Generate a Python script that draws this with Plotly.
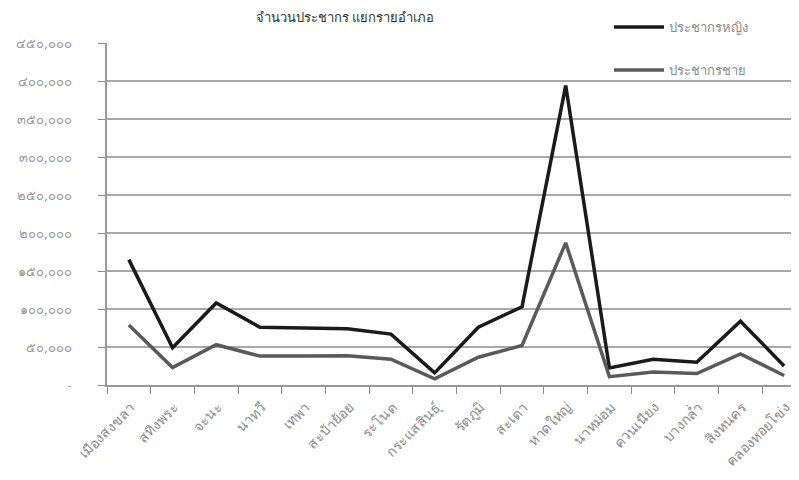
import plotly.graph_objects as go

districts = ["เมืองสงขลา", "สทิงพระ", "จะนะ", "นาทวี", "เทพา", "สะบ้าย้อย", "ระโนด",
             "กระแสสินธุ์", "รัตภูมิ", "สะเดา", "หาดใหญ่", "นาหม่อม", "ควนเนียง",
             "บางกล่ำ", "สิงหนคร", "คลองหอยโข่ง"]
female = [165000, 49000, 108000, 76000, 75000, 74000, 67000, 16000, 76000, 103000,
          394000, 22500, 34000, 30000, 84000, 25000]
male = [79000, 23000, 53000, 38000, 38000, 38500, 34000, 8000, 36500, 52000,
        187000, 11000, 17000, 15000, 41000, 12500]

y_tickvals = [0, 50000, 100000, 150000, 200000, 250000, 300000, 350000, 400000, 450000]
y_ticktext = ["-", "๕๐,๐๐๐", "๑๐๐,๐๐๐", "๑๕๐,๐๐๐", "๒๐๐,๐๐๐", "๒๕๐,๐๐๐",
              "๓๐๐,๐๐๐", "๓๕๐,๐๐๐", "๔๐๐,๐๐๐", "๔๕๐,๐๐๐"]

fig = go.Figure()
fig.add_trace(go.Scatter(x=districts, y=female, mode="lines", name="ประชากรหญิง",
                         line=dict(color="#1a1a1a", width=3.5), legendgroup="f"))
fig.add_trace(go.Scatter(x=districts, y=male, mode="lines", name="ประชากรชาย",
                         line=dict(color="#5a5a5a", width=3.5), legendgroup="m"))

fig.update_layout(
    width=799, height=480,
    margin=dict(l=99, r=8, t=34.5, b=102.5, autoexpand=False),
    plot_bgcolor="white", paper_bgcolor="white",
    font=dict(family="Noto Sans, DejaVu Sans, sans-serif", color="#888888", size=12),
    title=dict(text="จำนวนประชากร แยกรายอำเภอ", x=(345 - 8) / 799, xanchor="center",
               y=1 - 9 / 480, yanchor="middle",
               font=dict(size=13, color="#333333")),
    showlegend=True,
    legend=dict(x=(609 - 107) / 692, xanchor="left", y=(385.5 - 11.5) / 343, yanchor="top",
                font=dict(size=13, color="#8a8a8a"), tracegroupgap=23,
                bgcolor="rgba(0,0,0,0)", itemwidth=50),
)
fig.update_xaxes(
    type="category", range=[-0.5, 15.34], tickson="boundaries",
    ticks="outside", ticklen=7, tickcolor="#888888", tickwidth=1,
    tickangle=-45, tickfont=dict(size=14, color="#8a8a8a"), automargin=False,
    ticklabelshift=2, ticklabelstandoff=7,
    showgrid=False, showline=True, linecolor="#999999", linewidth=1.5,
)
fig.update_yaxes(
    range=[0, 450000], tickvals=y_tickvals, ticktext=y_ticktext,
    ticks="outside", ticklen=7, tickcolor="#888888", tickwidth=1,
    ticklabelstandoff=24, tickfont=dict(size=13, color="#999999"), automargin=False,
    showgrid=True, gridcolor="#a8a8a8", gridwidth=1.5,
    showline=True, linecolor="#999999", linewidth=1.5, zeroline=False,
)

fig.write_html("out.html")
